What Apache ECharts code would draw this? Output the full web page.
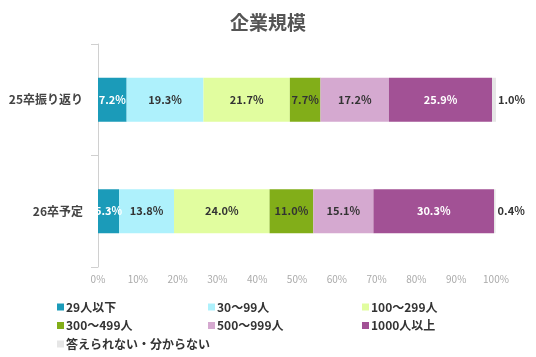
<!DOCTYPE html>
<html><head><meta charset="utf-8">
<script src="https://cdn.jsdelivr.net/npm/echarts@6/dist/echarts.min.js"></script>
<style>html,body{margin:0;padding:0;background:#fff}#c{width:536px;height:357px}</style>
</head><body><div id="c"></div>
<script>
const title = '企業規模';
const categories = ['25卒振り返り', '26卒予定'];
const seriesNames = ['29人以下', '30〜99人', '100〜299人', '300〜499人', '500〜999人', '1000人以上', '答えられない・分からない'];
const values = [
  [7.2, 5.3],
  [19.3, 13.8],
  [21.7, 24.0],
  [7.7, 11.0],
  [17.2, 15.1],
  [25.9, 30.3],
  [1.0, 0.4]
];
const colors = ['#1b9bb9', '#aef1fc', '#e1fd9f', '#82ae19', '#d5a9d0', '#a25195', '#e6e6e6'];
const labelColors = ['#fff', '#333', '#333', '#333', '#333', '#fff', '#333'];
const xTicks = [0, 10, 20, 30, 40, 50, 60, 70, 80, 90, 100];

const font = '"Noto Sans CJK JP", "Noto Sans", sans-serif';
const chart = echarts.init(document.getElementById('c'), null, {renderer: 'canvas'});
const series = seriesNames.map((n, i) => ({
  name: n, type: 'bar', stack: 'a', barWidth: 44,
  data: values[i].slice().reverse(),
  itemStyle: {color: colors[i]},
  label: {
    show: true,
    position: i === 6 ? 'right' : 'inside',
    distance: 2,
    formatter: p => p.value.toFixed(1) + '%',
    color: labelColors[i], fontWeight: 'bold', fontSize: 11, fontFamily: font
  }
}));
function legendCol(idx, left) {
  return {
    orient: 'vertical', left: left, top: 301, padding: 0, height: 60,
    itemWidth: 7, itemHeight: 7, itemGap: 6.5,
    icon: 'rect', selectedMode: false,
    data: idx.map(i => seriesNames[i]),
    textStyle: {fontSize: 12, lineHeight: 12, fontWeight: 'bold', color: '#333', fontFamily: font, padding: [0, 0, 0, -3]}
  };
}
chart.setOption({
  animation: false,
  title: {text: title, left: 'center', top: 8, textStyle: {fontSize: 19, fontWeight: 'bold', color: '#555', fontFamily: font}},
  grid: {left: 98, right: 40, top: 44, bottom: 90},
  xAxis: {
    type: 'value', min: 0, max: 100, interval: 10,
    axisLabel: {formatter: v => v + '%', color: '#aaa', fontSize: 10, margin: 7, fontFamily: font},
    splitLine: {show: false}, axisLine: {show: false}, axisTick: {show: false}
  },
  yAxis: {
    type: 'category', data: categories.slice().reverse(),
    axisLine: {lineStyle: {color: '#d0d0d0'}},
    axisTick: {show: true, length: 7, lineStyle: {color: '#d0d0d0'}},
    axisLabel: {color: '#444', fontSize: 12, fontWeight: 'bold', margin: 15, fontFamily: font}
  },
  legend: [legendCol([0, 3, 6], 57), legendCol([1, 4], 208), legendCol([2, 5], 362)],
  series: series
});
</script></body></html>
